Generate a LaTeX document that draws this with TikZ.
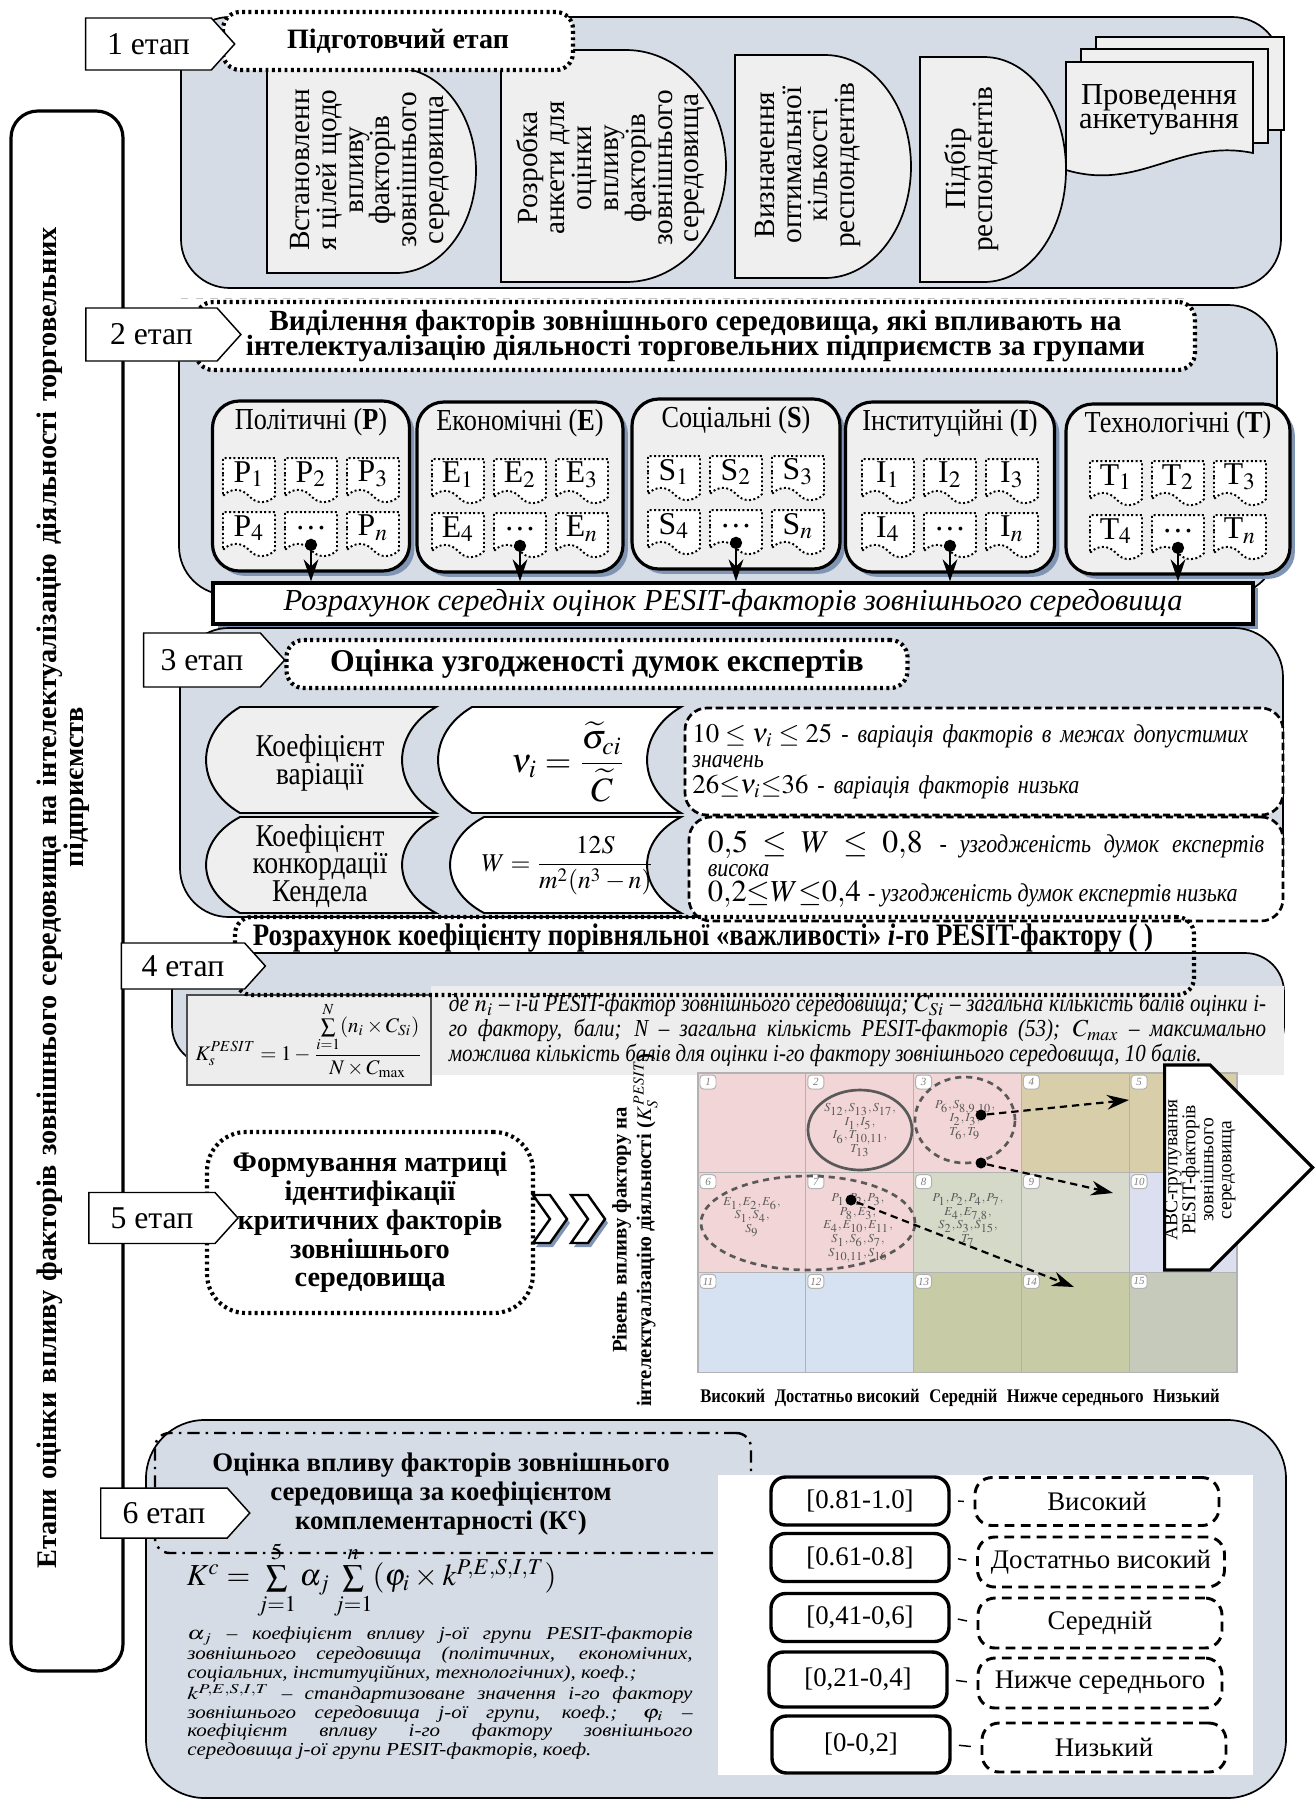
\documentclass[tikz,border=0pt]{standalone}
\usepackage{amsmath}
\usepackage{mathptmx}
\usepackage{fontspec}
\setmainfont{Liberation Serif}
\newfontfamily\condfont[FakeStretch=0.86]{Liberation Serif}
\usepackage{xcolor}
\usepackage{graphicx}
\usepackage{tikz}
\usetikzlibrary{shapes.symbols}
\usetikzlibrary{shapes.geometric}
\usetikzlibrary{shadows}
\usetikzlibrary{arrows.meta}
\definecolor{panelblue}{RGB}{214,220,229}
\definecolor{boxgray}{RGB}{239,239,239}
\definecolor{notegray}{RGB}{237,237,237}
\definecolor{shadowblue}{RGB}{128,148,180}
\definecolor{cellpink}{RGB}{242,213,214}
\definecolor{celltan}{RGB}{217,206,170}
\definecolor{cellgreen}{RGB}{213,217,200}
\definecolor{cellgray}{RGB}{217,218,206}
\definecolor{celllav}{RGB}{219,223,240}
\definecolor{cellblue}{RGB}{214,226,241}
\definecolor{cellolive}{RGB}{199,204,166}
\definecolor{cellsage}{RGB}{197,202,186}
\newcommand{\pu}{0.0144cm}
\newcommand{\fsz}[2]{\fontsize{#1}{#2}\selectfont}
\newcommand{\noteit}{\condfont\itshape\fsz{10.5}{10.5}}
\lineskiplimit=-\maxdimen
% box with a rounded right side
\newcommand{\dshape}[5]{%
  \draw[dbox] (#1,#2) -- ({#3-#5},#2)
    .. controls ({#3-0.448*#5},#2) and (#3,{#2+0.224*(#4-#2)}) .. (#3,{0.5*(#2+#4)})
    .. controls (#3,{#4-0.224*(#4-#2)}) and ({#3-0.448*#5},#4) .. ({#3-#5},#4)
    -- (#1,#4) -- cycle;}
% box with both sides curved to the left
\newcommand{\crvshape}[6]{%
  \draw[#1] ({#2+#6},#4) -- (#3,#4)
    .. controls ({#3-1.33*#6},{#4+0.25*(#5-#4)}) and ({#3-1.33*#6},{#4+0.75*(#5-#4)}) .. (#3,#5)
    -- ({#2+#6},#5)
    .. controls ({#2-0.33*#6},{#4+0.75*(#5-#4)}) and ({#2-0.33*#6},{#4+0.25*(#5-#4)}) .. ({#2+#6},#4)
    -- cycle;}

\begin{document}
\begin{tikzpicture}[x=\pu, y=-\pu,
    panel/.style={draw, line width=0.7pt, fill=panelblue, rounded corners=20pt},
    stagelbl/.style={signal, signal to=east, signal pointer angle=96, draw, fill=white, line width=0.6pt,
      minimum width=149*\pu, minimum height=52*\pu, inner sep=0pt, font=\fsz{13}{13}},
    dottedbox/.style={draw, line width=1.7pt, dash pattern=on 1.2pt off 1.4pt, rounded corners=7pt},
    titlebox/.style={dottedbox, fill=white, align=center, inner sep=0pt, font=\bfseries\fsz{12}{10.5}},
    dbox/.style={draw, line width=0.7pt, fill=boxgray},
    vtext/.style={rotate=90, align=center, font=\fsz{12}{11}},
    grpbox/.style={draw, line width=1.3pt, fill=boxgray, rounded corners=11pt,
      drop shadow={shadow xshift=2pt, shadow yshift=-2pt, fill=shadowblue, opacity=1}},
    grphead/.style={font=\condfont\fsz{12.5}{12}},
    item/.style={tape, tape bend top=none, tape bend bottom=out and in, tape bend height=5pt,
      draw, densely dotted, line width=0.8pt, fill=white, minimum width=52*\pu, minimum height=44*\pu,
      inner sep=0pt, font=\fsz{13}{13}},
    dotarr/.style={line width=1pt, {Circle[length=5pt]}-{Stealth[length=9pt, width=6pt]}},
    crvgray/.style={draw, line width=0.8pt, fill=boxgray},
    crvwhite/.style={draw, line width=0.8pt, fill=white},
    dashbox/.style={draw, line width=1.1pt, dash pattern=on 3pt off 1.5pt, rounded corners=9pt, fill=white},
    badge/.style={draw=gray!60, fill=white, rounded corners=1.5pt, minimum width=16*\pu, minimum height=14*\pu,
      inner sep=0pt, font=\itshape\fsz{4.5}{4.5}, text=gray},
    grpell/.style={ellipse, draw=black!65, line width=1.1pt, inner sep=0pt, align=center,
      font=\bfseries\fsz{5}{5.6}, text=black!65},
    celltxt/.style={align=center, font=\bfseries\fsz{5}{5.6}, text=black!65},
    dot/.style={circle, fill=black, inner sep=0pt, minimum size=11*\pu},
    dasharr/.style={line width=0.9pt, dash pattern=on 3pt off 2pt, -{Stealth[length=9pt, width=6pt]}},
    rangebox/.style={draw, line width=1.4pt, rounded corners=6pt, fill=white, minimum width=178*\pu,
      minimum height=48*\pu, inner sep=0pt, font=\fsz{11}{11}},
    levelbox/.style={draw, line width=1.2pt, dash pattern=on 4pt off 2.6pt, rounded corners=7pt, fill=white,
      minimum width=244*\pu, minimum height=48*\pu, inner sep=0pt, font=\fsz{11}{11}}
  ]
\useasboundingbox (0,0) rectangle (1315,1801);

% Left column with the common title
\draw[line width=1.3pt, fill=white, rounded corners=11pt] (11,111) rectangle (123,1671);
\node[rotate=90, align=center, text width=570pt, font=\bfseries\fsz{11.6}{11.2}] (vtitle) at (63.5,898)
  {Етапи оцінки впливу факторів зовнішнього середовища на інтелектуалізацію діяльності торговельних\\\hspace*{91pt}підприємств};

% First stage
\draw[panel] (181,17) rectangle (1281,288);
\dshape{267}{68}{476}{273}{80}
\node[vtext] (goal) at (370,170) {Встановленн\\я цілей щодо\\впливу\\факторів\\зовнішнього\\середовища};
\dshape{501}{50}{726}{282}{100}
\node[vtext] (quest) at (611,168) {Розробка\\анкети для\\оцінки\\впливу\\факторів\\зовнішнього\\середовища};
\dshape{735}{55}{911}{278}{86}
\node[vtext] (count) at (808,165) {Визначення\\оптимальної\\кількості\\респондентів};
\dshape{920}{57}{1066}{282}{82}
\node[vtext] (select) at (972,169) {Підбір\\респондентів};
\draw[dbox] (1096,37) rectangle (1284,130);
\draw[dbox] (1081,49) rectangle (1268,143);
\draw[dbox] (1066,62) -- (1253,62) -- (1253,153) .. controls (1180,138) and (1140,192) .. (1066,170) -- cycle;
\node[align=center, font=\fsz{12.5}{10}] (survey) at (1159,110) {Проведення\\анкетування};
\node[titlebox, minimum width=350*\pu, minimum height=58*\pu, font=\bfseries\fsz{11.5}{11.5}] (title1) at (398,41) {Підготовчий етап};
\node[stagelbl] (lbl1) at (148.5,44) {1 етап};
\draw[gray!45, dashed] (181,298) -- (1190,298);

% Second stage
\draw[panel] (179,305) rectangle (1277,595);
\node[titlebox, minimum width=999*\pu, minimum height=68*\pu] (title2) at (695.5,336)
  {Виділення факторів зовнішнього середовища, які впливають на\\інтелектуалізацію діяльності торговельних підприємств за групами};
\node[stagelbl, minimum width=155*\pu, minimum height=53*\pu] (lbl2) at (151.5,334.5) {2 етап};
\foreach \g/\name/\cx/\cy/\w in {P/Політичні/311/486/197, E/Економічні/520/487/206, S/Соціальні/736/484/208,
    I/Інституційні/950/487/209, T/Технологічні/1178/489/224}{
  \node[grpbox, minimum width=\w*\pu, minimum height=170*\pu] (grp\g) at (\cx,\cy) {};
  \node[grphead] (head\g) at (\cx,\cy-64) {\name{} (\textbf{\g})};
  \node[item] (\g1) at (\cx-62,\cy-12) {\g$_1$};
  \node[item] (\g2) at (\cx,\cy-12) {\g$_2$};
  \node[item] (\g3) at (\cx+62,\cy-12) {\g$_3$};
  \node[item] (\g4) at (\cx-62,\cy+42) {\g$_4$};
  \node[item] (\g dots) at (\cx,\cy+42) {\dots};
  \node[item] (\g n) at (\cx+62,\cy+42) {\g$_n$};
}
\node[draw, line width=1.3pt, fill=white, minimum width=1040*\pu, minimum height=41*\pu, inner sep=0pt,
  font=\itshape\fsz{12.5}{12.5}, drop shadow={shadow xshift=2pt, shadow yshift=-2pt, fill=shadowblue, opacity=1}]
  (bar) at (733,603.5) {Розрахунок середніх оцінок PESIT-факторів зовнішнього середовища};
\foreach \g in {P,E,S,I,T}
  \draw[dotarr] ([yshift=2.5pt]\g dots.south) -- (\g dots.south |- bar.north);

% Third stage
\draw[panel] (180,628) rectangle (1283,917);
\crvshape{crvgray}{206}{436}{707}{813}{34}
\crvshape{crvwhite}{438}{681}{707}{813}{34}
\crvshape{crvgray}{206}{436}{817}{913}{34}
\crvshape{crvwhite}{450}{681}{817}{913}{34}
\node[align=center, font=\condfont\fsz{13}{11.5}] (varname) at (320,763) {Коефіцієнт\\варіації};
\node (varform) at (568,762) {\fsz{14}{14}$\displaystyle\nu_i=\frac{\widetilde{\sigma}_{ci}}{\widetilde{C}}$};
\node[align=center, font=\condfont\fsz{13}{11.2}] (kendname) at (320,866) {Коефіцієнт\\конкордації\\Кендела};
\node (kendform) at (568,866) {\fsz{10.5}{10.5}$\displaystyle W=\frac{12S}{m^2(n^3-n)}$};
\node[dashbox, minimum width=598*\pu, minimum height=107*\pu, text width=239pt, inner xsep=3pt,
  align=left, font=\fsz{11}{10.5}] (varnote) at (984,761.5)
  {$10\le\nu_i\le 25$ {\noteit - варіація факторів в межах допустимих}\\{\noteit значень}\\$26{\le}\nu_i{\le}36$ {\noteit - варіація факторів низька}};
\node[dashbox, minimum width=594*\pu, minimum height=104*\pu, text width=228pt, inner xsep=6pt,
  align=justify, font=\fsz{12}{10}] (kendnote) at (986,869)
  {{\fsz{13}{10}$0{,}5\le W\le 0{,}8$} {\noteit - узгодженість думок експертів\linebreak висока}\\{\fsz{12.5}{10}$0{,}2{\le}W{\le}0{,}4$} {\noteit - узгодженість думок експертів низька}};
\node[titlebox, minimum width=621*\pu, minimum height=48*\pu, font=\bfseries\fsz{13}{13}] (title3) at (597,664)
  {Оцінка узгодженості думок експертів};
\node[stagelbl, minimum width=141*\pu, minimum height=54*\pu] (lbl3) at (202,660) {3 етап};

% Fourth stage
\draw[panel, rounded corners=16pt] (172,953) rectangle (1284,1065);
\node[fill=notegray, minimum width=853*\pu, minimum height=71*\pu, text width=335pt, inner xsep=7pt,
  align=justify, font=\condfont\itshape\fsz{10}{8.4}] (pesitnote) at (857.5,1030.5)
  {де $n_i$ – i-й PESIT-фактор зовнішнього середовища; $C_{Si}$ – загальна кількість балів оцінки i-\linebreak го фактору, бали; N – загальна кількість PESIT-факторів (53); $C_{max}$ – максимально\linebreak можлива кількість балів для оцінки і-го фактору зовнішнього середовища, 10 балів.};
\node[draw=black!70, fill=notegray, line width=0.6pt, minimum width=244*\pu, minimum height=90*\pu, inner sep=1pt]
  (pesitform) at (309,1040)
  {\fsz{8.5}{8.5}$\displaystyle K_s^{PESIT}=1-\frac{\sum\limits_{i=1}^{N}(n_i\times C_{Si})}{N\times C_{\max}}$};
\node[dottedbox, minimum width=959*\pu, minimum height=78*\pu] (title4box) at (714.5,956) {};
\node[font=\condfont\bfseries\fsz{12.8}{12.8}] (title4) at (703,938)
  {Розрахунок коефіцієнту порівняльної «важливості» \textit{i}-го PESIT-фактору ( )};
\node[stagelbl, minimum width=144*\pu, minimum height=46*\pu] (lbl4) at (183,966) {4 етап};

% Fifth stage
\node[dottedbox, rounded corners=16pt, minimum width=326*\pu, minimum height=181*\pu, align=center,
  font=\bfseries\fsz{11.6}{11.8}] (title5) at (370,1222.5)
  {Формування матриці\\ідентифікації\\критичних факторів\\зовнішнього\\середовища};
\node[stagelbl, minimum width=149*\pu, minimum height=51*\pu] (lbl5) at (152,1218) {5 етап};
\foreach \cx in {533,571}{
  \fill[shadowblue] (\cx+3,1199) -- ++(17,0) -- ++(17,24) -- ++(-17,24) -- ++(-17,0) -- ++(17,-24) -- cycle;
  \draw[fill=white, line width=1pt] (\cx,1195) -- ++(17,0) -- ++(17,24) -- ++(-17,24) -- ++(-17,0) -- ++(17,-24) -- cycle;
}
% matrix of critical factors
\foreach \c [count=\k from 0] in {cellpink,cellpink,cellpink,celltan,celltan,cellpink,cellpink,cellgreen,cellgray,celllav,
    cellblue,cellblue,cellolive,cellolive,cellsage}{
  \pgfmathtruncatemacro{\mcol}{mod(\k,5)}
  \pgfmathtruncatemacro{\mrow}{(\k-\mcol)/5}
  \pgfmathtruncatemacro{\num}{\k+1}
  \draw[fill=\c, draw=gray!60, line width=0.5pt] ({698+107.8*\mcol},{1073+99.7*\mrow}) rectangle ++(107.8,99.7);
  \node[badge] (badge\num) at ({698+107.8*\mcol+10},{1073+99.7*\mrow+9}) {\num};
}
\node[grpell, minimum width=104*\pu, minimum height=80*\pu] (circ2) at (860,1130)
  {$S_{12}, S_{13}, S_{17},$\\$I_1, I_5,$\\$I_6, T_{10,11},$\\$T_{13}$};
\node[grpell, dashed, dash pattern=on 2.5pt off 2pt, minimum width=100*\pu, minimum height=86*\pu] (ell3) at (965,1120)
  {$P_6, S_{8,9,10},$\\$I_2, I_3,$\\$T_6, T_9$};
\node[grpell, dashed, dash pattern=on 2.5pt off 2pt, minimum width=214*\pu, minimum height=94*\pu] (ell7) at (808,1223) {};
\node[celltxt] (txt6) at (752,1217) {$E_1, E_2, E_6,$\\$S_1, S_4,$\\$S_9$};
\node[celltxt] (txt7) at (858,1228) {$P_1, P_2, P_3,$\\$P_8, E_3,$\\$E_4,E_{10},E_{11},$\\$S_1,S_6,S_7,$\\$S_{10,11},S_{16}$};
\node[celltxt] (txt8) at (968,1220) {$P_1, P_2, P_4, P_7,$\\$E_4, E_{7,8},$\\$S_2, S_3, S_{15},$\\$T_7$};
\node[signal, signal to=east, signal pointer angle=90, draw, line width=1.3pt, fill=white,
  minimum width=148*\pu, minimum height=205*\pu, inner sep=0pt, anchor=west] (abc) at (1163,1167.5) {};
\node[rotate=90, align=center, font=\fsz{8}{7.4}] (abctxt) at (1200,1170)
  {ABC-групування\\PESIT-факторів\\зовнішнього\\середовища};
\node[dot] (d1) at (981,1115) {};
\node[dot] (d2) at (981,1163) {};
\node[dot] (d3) at (851,1200) {};
\coordinate (e1) at (1129,1100);
\coordinate (e2) at (1113,1193);
\coordinate (e3) at (1074,1287);
\draw[dasharr] (d1) -- (e1);
\draw[dasharr] (d2) -- (e2);
\draw[dasharr] (d3) -- (e3);
\node[rotate=90, align=center, font=\bfseries\fsz{8.5}{10}] (ylab) at (635,1230)
  {Рівень впливу фактору на\\інтелектуалізацію діяльності ($K_S^{\,PESIT}$)};
\node[font=\condfont\bfseries\fsz{7.9}{9}] (xlab) at (960,1398)
  {Високий\enspace Достатньо високий\enspace Середній\enspace Нижче середнього\enspace Низький};

% Sixth stage
\draw[panel, rounded corners=24pt] (146,1420) rectangle (1286,1798);
\node[draw, line width=1pt, dash pattern=on 5pt off 2.5pt on 1pt off 2.5pt, rounded corners=6pt,
  minimum width=596*\pu, minimum height=120*\pu] (title6box) at (453,1493) {};
\node[align=center, font=\bfseries\fsz{11}{12}] (title6) at (441,1494)
  {Оцінка впливу факторів зовнішнього\\середовища за коефіцієнтом\\комплементарності (К\textsuperscript{c})};
\node[stagelbl, minimum width=149*\pu, minimum height=50*\pu] (lbl6) at (164,1513) {6 етап};
\node[anchor=west] (kcform) at (178,1580)
  {\fsz{12.5}{12.5}$K^{c}=\sum\limits_{j=1}^{5}\alpha_j\sum\limits_{j=1}^{n}(\varphi_i\times k^{P,E,S,I,T})$};
\node[transform shape, yscale=0.75, text width=207pt, align=justify, inner sep=0pt,
  font=\condfont\itshape\fsz{10}{7.9}] (kcnote) at (440,1693)
  {$\alpha_j$ – коефіцієнт впливу j-ої групи PESIT-факторів\linebreak зовнішнього середовища (політичних, економічних,\linebreak соціальних, інституційних, технологічних), коеф.;\\$k^{P,E,S,I,T}$ – стандартизоване значення і-го фактору\linebreak зовнішнього середовища j-ої групи, коеф.; $\varphi_i$ –\linebreak коефіцієнт впливу і-го фактору зовнішнього\linebreak середовища j-ої групи PESIT-факторів, коеф.};
\fill[white] (718,1475) rectangle (1253,1775);
\node[rangebox] (r1) at (860,1501) {{[}0.81-1.0]};
\node[rangebox] (r2) at (860,1557.5) {{[}0.61-0.8]};
\node[rangebox] (r3) at (860,1617.5) {{[}0,41-0,6]};
\node[rangebox, minimum height=55*\pu] (r4) at (858,1679.5) {{[}0,21-0,4]};
\node[rangebox, minimum height=57*\pu] (r5) at (861,1744.5) {{[}0-0,2]};
\node[levelbox] (c1) at (1097,1501.5) {Високий};
\node[levelbox, minimum width=247*\pu, minimum height=50*\pu] (c2) at (1101,1562) {Достатньо високий};
\node[levelbox, minimum height=50*\pu] (c3) at (1100,1623) {Середній};
\node[levelbox, minimum height=50*\pu] (c4) at (1100,1683) {Нижче середнього};
\node[levelbox, minimum height=49*\pu] (c5) at (1104,1747.5) {Низький};
\foreach \k in {1,...,5}
  \draw[line width=0.6pt, shorten <=3pt, shorten >=4pt] (r\k.east) -- (c\k.west);
\end{tikzpicture}
\end{document}
